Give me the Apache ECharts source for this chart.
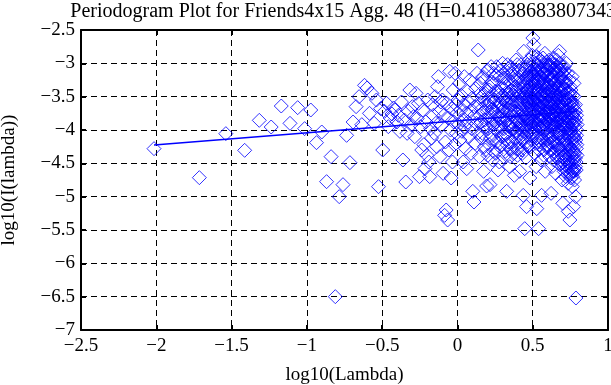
<!DOCTYPE html>
<html>
<head>
<meta charset="utf-8">
<script src="https://cdn.jsdelivr.net/npm/echarts@6/dist/echarts.min.js"></script>
<style>html,body{margin:0;padding:0;background:#fff}#c{width:611px;height:385px}</style>
</head>
<body>
<div id="c"></div>
<script>
const titleText = 'Periodogram Plot for Friends4x15 Agg. 48 (H=0.410538683807343)';
const xName = 'log10(Lambda)';
const yName = 'log10(I(lambda))';
const xTicks = [-2.5, -2, -1.5, -1, -0.5, 0, 0.5, 1];
const yTicks = [-7, -6.5, -6, -5.5, -5, -4.5, -4, -3.5, -3, -2.5];

// low frequencies (sparse, read individually)
const lowFreq = [
[-2.015,-4.28],[-1.714,-4.715],[-1.538,-4.055],[-1.413,-4.305],[-1.316,-3.855],[-1.237,-3.955],
[-1.170,-3.64],[-1.112,-3.90],[-1.061,-3.665],[-1.015,-3.98],[-0.974,-3.70],[-0.936,-4.19],
[-0.901,-4.03],[-0.869,-4.775],[-0.839,-4.40],[-0.811,-6.50],[-0.785,-5.00],[-0.760,-4.82],
[-0.736,-4.08],[-0.714,-4.49],[-0.693,-3.88],[-0.673,-3.65],[-0.653,-3.50],[-0.635,-3.92],
[-0.617,-3.33],[-0.600,-3.37]
];
// middle frequencies
const midFreq = [
[-0.584,-3.75],[-0.568,-3.45],[-0.553,-3.90],[-0.538,-3.55],[-0.524,-4.85],[-0.510,-3.68],
[-0.496,-4.30],[-0.484,-3.72],[-0.471,-3.60],[-0.459,-3.95],[-0.447,-3.82],[-0.435,-3.76],
[-0.424,-3.67],[-0.413,-3.70],[-0.402,-3.88],[-0.392,-3.78],[-0.382,-4.02],[-0.372,-3.58],
[-0.362,-4.45],[-0.352,-3.85],[-0.343,-4.78],[-0.334,-4.05],[-0.325,-3.72],[-0.316,-3.40],
[-0.307,-3.92],[-0.299,-3.65],[-0.291,-3.80],[-0.283,-4.10],[-0.275,-3.45],[-0.267,-3.83],
[-0.259,-3.60],[-0.252,-4.70],[-0.244,-3.95],[-0.237,-4.30],[-0.230,-3.70],[-0.223,-4.22],
[-0.216,-4.58],[-0.210,-3.88],[-0.203,-4.38],[-0.197,-3.55],[-0.190,-4.48],[-0.184,-4.70],
[-0.178,-3.98],[-0.172,-4.12],[-0.166,-3.62],[-0.160,-3.78],[-0.154,-4.05],[-0.148,-3.50],
[-0.143,-3.90],[-0.137,-4.25],[-0.132,-3.35],[-0.126,-3.20],[-0.121,-3.72],[-0.116,-4.40],
[-0.110,-3.58],[-0.105,-3.93],[-0.100,-3.55],[-0.095,-4.65],[-0.090,-3.78],[-0.085,-5.28],
[-0.080,-4.18],[-0.075,-5.20],[-0.070,-3.60],[-0.065,-5.35],[-0.060,-3.82],[-0.056,-4.30],
[-0.051,-3.12],[-0.046,-4.00],[-0.042,-4.72],[-0.037,-3.68],[-0.033,-4.48],[-0.028,-3.40],
[-0.024,-3.88],[-0.020,-4.22],[-0.015,-3.15],[-0.011,-3.62],[-0.007,-4.05],[-0.003,-3.75]
];
// high frequencies (dense cloud)
const highFreqA = [
[0.004,-3.55],[0.008,-3.92],[0.013,-3.30],[0.017,-4.15],[0.021,-3.70],[0.025,-3.48],[0.030,-4.02],
[0.034,-3.85],[0.038,-4.48],[0.042,-3.62],[0.046,-3.20],[0.050,-3.95],[0.054,-4.28],[0.058,-3.75],
[0.062,-4.58],[0.066,-3.42],[0.070,-3.88],[0.074,-3.58],[0.078,-4.10],[0.082,-3.25],[0.086,-3.72],
[0.090,-4.35],[0.094,-3.98],[0.098,-3.52],[0.102,-4.92],[0.106,-3.80],[0.110,-5.08],[0.114,-3.65],
[0.118,-4.20],[0.122,-3.38],[0.126,-3.90],[0.130,-3.15],[0.134,-4.05],[0.138,-2.80],[0.142,-3.60],
[0.146,-4.40],[0.150,-3.78],[0.154,-3.45],[0.158,-4.12],[0.162,-3.68],[0.166,-3.22],[0.170,-3.95],
[0.174,-4.62],[0.178,-3.55],[0.182,-3.85],[0.186,-4.30],[0.190,-3.40],[0.194,-4.84],[0.198,-3.72]
];
const highFreqB = [
[0.202,-3.10],[0.205,-3.98],[0.208,-3.62],[0.211,-4.22],[0.214,-3.35],[0.216,-4.82],[0.219,-3.80],
[0.222,-3.50],[0.225,-4.08],[0.228,-3.28],[0.231,-3.70],[0.234,-4.45],[0.237,-3.92],[0.240,-3.15],
[0.243,-3.58],[0.246,-4.15],[0.249,-3.75],[0.252,-3.42],[0.255,-4.35],[0.258,-3.88],[0.261,-3.05],
[0.264,-3.65],[0.267,-4.02],[0.270,-4.60],[0.273,-3.48],[0.276,-3.82],[0.279,-3.20],[0.282,-4.25],
[0.285,-3.60],[0.288,-3.95],[0.291,-3.38],[0.294,-4.10],[0.297,-3.72],[0.300,-3.00],[0.303,-3.55],
[0.306,-4.40],[0.309,-3.85],[0.312,-3.30],[0.315,-3.68],[0.318,-4.05],[0.321,-3.45],[0.324,-3.12],
[0.327,-4.92],[0.330,-3.78],[0.333,-3.58],[0.336,-4.18],[0.339,-3.25],[0.342,-3.92],[0.345,-3.52],
[0.348,-4.55],[0.351,-3.70],[0.354,-3.05],[0.357,-3.40],[0.360,-3.88],[0.363,-4.28],[0.366,-3.62],
[0.369,-3.18],[0.372,-3.98],[0.375,-3.48],[0.378,-4.68],[0.381,-3.80],[0.384,-3.35],[0.387,-4.12],
[0.390,-2.95],[0.393,-3.58],[0.396,-3.90],[0.399,-4.38]
];
const highFreqC = [
[0.401,-3.22],[0.403,-3.72],[0.405,-4.05],[0.407,-3.45],[0.409,-3.10],[0.411,-3.88],[0.413,-4.62],
[0.415,-3.60],[0.417,-3.32],[0.419,-4.18],[0.421,-3.78],[0.423,-3.02],[0.425,-3.55],[0.427,-3.95],
[0.429,-4.30],[0.431,-3.40],[0.433,-3.68],[0.435,-3.15],[0.437,-4.98],[0.439,-3.85],[0.441,-2.82],
[0.443,-3.50],[0.445,-4.10],[0.447,-5.48],[0.449,-3.62],[0.451,-3.28],[0.453,-3.92],[0.455,-4.42],
[0.457,-3.05],[0.459,-5.15],[0.461,-3.75],[0.463,-3.42],[0.465,-4.00],[0.467,-3.18],[0.469,-3.58],
[0.471,-4.25],[0.473,-3.82],[0.475,-2.95],[0.477,-3.35],[0.479,-3.70],[0.481,-4.72],[0.483,-3.48],
[0.485,-3.95],[0.487,-3.12],[0.489,-3.65],[0.491,-4.15],[0.493,-3.30],[0.495,-3.88],[0.497,-2.88],
[0.499,-3.55],[0.501,-2.62],[0.503,-4.05],[0.505,-3.40],[0.507,-2.72],[0.509,-3.78],[0.511,-3.20],
[0.513,-4.35],[0.515,-3.62],[0.517,-3.00],[0.519,-3.92],[0.521,-3.45],[0.523,-4.55],[0.525,-3.25],
[0.527,-5.18],[0.529,-3.72],[0.531,-3.10],[0.533,-4.10],[0.535,-3.52],[0.537,-2.92],[0.539,-5.48],
[0.541,-3.85],[0.543,-3.35],[0.545,-4.22],[0.547,-3.05],[0.549,-3.65],[0.551,-3.98],[0.553,-3.22],
[0.555,-4.45],[0.557,-3.48],[0.559,-4.98],[0.561,-3.80],[0.563,-2.98],[0.565,-3.58],[0.567,-4.05],
[0.569,-3.30],[0.571,-3.90],[0.573,-3.15],[0.575,-4.30],[0.577,-3.70],[0.579,-3.42],[0.581,-2.85],
[0.583,-4.62],[0.585,-3.55],[0.587,-3.95],[0.589,-3.08],[0.591,-3.75],[0.593,-4.15],[0.595,-3.38],
[0.597,-3.62],[0.599,-3.02]
];
const highFreqD = [
[0.601,-3.88],[0.603,-4.25],[0.604,-3.50],[0.606,-3.18],[0.607,-4.02],[0.609,-3.70],[0.610,-2.95],
[0.612,-3.42],[0.613,-4.40],[0.615,-3.82],[0.616,-3.28],[0.618,-3.60],[0.619,-4.12],[0.621,-3.05],
[0.622,-4.95],[0.624,-3.75],[0.625,-3.40],[0.627,-3.95],[0.628,-4.55],[0.630,-3.22],[0.631,-3.65],
[0.633,-3.12],[0.634,-4.08],[0.636,-3.52],[0.637,-3.85],[0.639,-2.92],[0.640,-4.32],[0.642,-3.45],
[0.643,-3.72],[0.645,-3.30],[0.646,-4.18],[0.648,-3.58],[0.649,-3.98],[0.651,-3.02],[0.652,-4.65],
[0.654,-3.80],[0.655,-3.38],[0.657,-3.68],[0.658,-4.05],[0.660,-3.15],[0.661,-3.55],[0.663,-4.42],
[0.664,-3.90],[0.666,-3.25],[0.667,-3.62],[0.669,-4.22],[0.670,-2.88],[0.672,-3.48],[0.673,-3.78],
[0.675,-4.00],[0.676,-3.35],[0.678,-2.82],[0.679,-4.52],[0.681,-3.70],[0.682,-3.10],[0.684,-3.92],
[0.685,-4.30],[0.687,-3.58],[0.688,-3.20],[0.690,-4.10],[0.691,-3.42],[0.693,-3.85],[0.694,-4.75],
[0.696,-3.05],[0.697,-3.65],[0.699,-4.40],[0.700,-5.10],[0.702,-3.50],[0.703,-3.95],[0.705,-3.28],
[0.706,-4.20],[0.708,-3.75],[0.709,-4.62],[0.711,-3.12],[0.712,-3.88],[0.714,-4.45],[0.715,-3.55],
[0.717,-4.05],[0.718,-3.38],[0.720,-4.70],[0.721,-3.72],[0.723,-4.25],[0.724,-3.00],[0.726,-3.62],
[0.727,-4.55],[0.729,-3.92],[0.730,-3.45],[0.732,-4.35],[0.733,-3.82],[0.735,-4.80],[0.736,-5.22],
[0.738,-3.68],[0.739,-4.12],[0.741,-3.25],[0.742,-4.50],[0.744,-3.98],[0.745,-4.68],[0.747,-5.35],
[0.748,-3.55],[0.750,-4.28],[0.751,-3.85],[0.753,-4.72],[0.754,-3.40],[0.756,-4.15],[0.757,-4.58],
[0.759,-3.75],[0.760,-4.40],[0.762,-3.20],[0.763,-4.85],[0.765,-3.92],[0.766,-4.62],[0.768,-3.62],
[0.769,-4.30],[0.771,-5.15],[0.772,-3.88],[0.774,-4.48],[0.775,-3.50],[0.777,-4.05],[0.778,-4.75],
[0.780,-3.70],[0.781,-4.20],[0.783,-3.95],[0.784,-4.55],[0.786,-5.00],[0.787,-6.52],[0.789,-3.85],
[0.790,-4.28],[0.792,-4.00]
];
const highFreqE = [
[0.442,-3.35],[0.445,-3.78],[0.448,-3.12],[0.450,-3.95],[0.452,-3.50],[0.455,-3.22],[0.457,-3.68],
[0.459,-4.18],[0.462,-3.40],[0.464,-3.02],[0.466,-3.85],[0.469,-3.60],[0.471,-3.28],[0.473,-4.02],
[0.476,-3.72],[0.478,-3.15],[0.480,-3.52],[0.483,-3.90],[0.485,-3.38],[0.487,-4.25],[0.490,-3.05],
[0.492,-3.78],[0.494,-3.45],[0.497,-3.62],[0.499,-4.08],[0.501,-3.25],[0.504,-3.88],[0.506,-2.98],
[0.508,-3.55],[0.511,-3.70],[0.513,-3.32],[0.515,-3.98],[0.518,-3.12],[0.520,-3.62],[0.522,-4.20],
[0.525,-3.42],[0.527,-2.90],[0.529,-3.80],[0.532,-3.55],[0.534,-3.28],[0.536,-3.92],[0.539,-3.18],
[0.541,-4.30],[0.543,-3.68],[0.546,-3.40],[0.548,-2.95],[0.550,-3.85],[0.553,-3.58],[0.555,-3.10],
[0.557,-4.12],[0.560,-3.48],[0.562,-3.75],[0.564,-3.22],[0.567,-3.95],[0.569,-2.92],[0.571,-3.62],
[0.574,-4.38],[0.576,-3.35],[0.578,-3.82],[0.581,-3.15],[0.583,-3.55],[0.585,-4.00],[0.588,-3.30],
[0.590,-3.72],[0.592,-2.98],[0.595,-4.22],[0.597,-3.45],[0.599,-3.88],[0.602,-3.10],[0.604,-3.65],
[0.606,-4.10],[0.609,-3.35],[0.611,-3.80],[0.613,-3.02],[0.616,-3.55],[0.618,-4.30],[0.620,-3.25],
[0.623,-3.92],[0.625,-3.62],[0.627,-2.98],[0.630,-4.18],[0.632,-3.42],[0.634,-3.78],[0.637,-3.18],
[0.639,-4.45],[0.641,-3.60],[0.644,-3.90],[0.646,-3.08],[0.648,-3.48],[0.651,-4.02],[0.653,-3.30],
[0.655,-3.72],[0.658,-2.95],[0.660,-4.28],[0.662,-3.52],[0.665,-3.85],[0.667,-3.12],[0.669,-4.12],
[0.672,-3.65],[0.674,-3.38],[0.676,-4.40],[0.679,-3.00],[0.681,-3.78],[0.683,-3.45],[0.686,-4.05],
[0.688,-3.22],[0.690,-3.58],[0.693,-4.30],[0.695,-3.92],[0.697,-3.15],[0.700,-3.70],[0.702,-4.48],
[0.704,-3.40],[0.707,-3.85],[0.709,-3.05],[0.711,-4.15],[0.714,-3.62],[0.716,-4.38],[0.718,-3.28],
[0.721,-3.98],[0.723,-4.58],[0.725,-3.52],[0.728,-3.78],[0.730,-4.22],[0.732,-3.15],[0.735,-4.48],
[0.737,-3.92],[0.739,-3.45],[0.742,-4.30],[0.744,-3.70],[0.746,-4.05],[0.749,-3.35],[0.751,-4.55],
[0.753,-3.98],[0.756,-3.60],[0.758,-4.35],[0.760,-3.82],[0.763,-4.62],[0.765,-3.48],[0.767,-4.12],
[0.770,-3.75],[0.772,-4.42],[0.774,-3.30],[0.777,-4.58],[0.779,-3.90],[0.781,-4.35],[0.784,-3.62],
[0.786,-4.15],[0.788,-4.48],[0.791,-3.78],[0.793,-4.22],[0.795,-3.92]
];
const highFreqF = [
[0.152,-3.30],[0.157,-3.88],[0.161,-3.50],[0.166,-4.05],[0.170,-3.20],[0.175,-3.72],[0.179,-4.25],
[0.184,-3.45],[0.188,-3.95],[0.193,-3.62],[0.197,-3.12],[0.202,-4.38],[0.206,-3.82],[0.211,-3.40],
[0.215,-3.58],[0.220,-4.12],[0.224,-3.05],[0.229,-3.90],[0.233,-3.68],[0.238,-4.32],[0.242,-3.30],
[0.247,-3.98],[0.251,-3.55],[0.256,-3.18],[0.260,-4.18],[0.265,-3.78],[0.269,-3.42],[0.274,-3.95],
[0.278,-4.48],[0.283,-3.62],[0.287,-3.10],[0.292,-3.82],[0.296,-4.22],[0.301,-3.48],[0.305,-3.70],
[0.310,-3.98],[0.314,-3.22],[0.319,-4.32],[0.323,-3.58],[0.328,-3.85],[0.332,-3.02],[0.337,-4.10],
[0.341,-3.45],[0.346,-3.75],[0.350,-4.40],[0.355,-3.28],[0.359,-3.92],[0.364,-3.55],[0.368,-4.18],
[0.373,-3.10],[0.377,-3.72],[0.382,-4.02],[0.386,-3.42],[0.391,-3.85],[0.395,-4.28],[0.400,-3.58],
[0.404,-3.25],[0.409,-3.98],[0.413,-3.68],[0.418,-4.10],[0.422,-3.38],[0.427,-3.82],[0.431,-4.35],
[0.436,-3.52]
];
const highFreqG = [
[0.481,-3.58],[0.484,-3.20],[0.486,-3.82],[0.489,-3.42],[0.491,-3.98],[0.494,-3.12],[0.496,-3.70],
[0.499,-3.35],[0.501,-3.92],[0.504,-3.55],[0.506,-3.18],[0.509,-4.02],[0.511,-3.48],[0.514,-3.08],
[0.516,-3.75],[0.519,-3.30],[0.521,-3.88],[0.524,-3.58],[0.526,-3.15],[0.529,-4.12],[0.531,-3.40],
[0.534,-3.72],[0.536,-3.02],[0.539,-3.62],[0.541,-3.95],[0.544,-3.25],[0.546,-3.82],[0.549,-3.45],
[0.551,-4.18],[0.554,-3.08],[0.556,-3.68],[0.559,-3.35],[0.561,-3.98],[0.564,-3.52],[0.566,-3.15],
[0.569,-3.78],[0.571,-4.15],[0.574,-3.28],[0.576,-3.62],[0.579,-3.92],[0.581,-3.45],[0.584,-3.05],
[0.586,-3.75],[0.589,-4.25],[0.591,-3.38],[0.594,-3.85],[0.596,-3.18],[0.599,-3.58],[0.601,-4.05],
[0.604,-3.32],[0.606,-3.72],[0.609,-3.05],[0.611,-3.95],[0.614,-3.48],[0.616,-4.20],[0.619,-3.22],
[0.621,-3.68],[0.624,-3.88],[0.626,-3.35],[0.629,-4.10],[0.631,-3.55],[0.634,-3.02],[0.636,-3.80],
[0.639,-4.35],[0.641,-3.28],[0.644,-3.62],[0.646,-3.95],[0.649,-3.42],[0.651,-3.12],[0.654,-4.22],
[0.656,-3.70],[0.659,-3.50],[0.661,-3.88],[0.664,-3.05],[0.666,-4.38],[0.669,-3.35],[0.671,-3.78],
[0.674,-4.05],[0.676,-3.58],[0.679,-3.22],[0.681,-4.28],[0.684,-3.45],[0.686,-3.85],[0.689,-3.10],
[0.691,-4.50],[0.694,-3.65],[0.696,-3.98],[0.699,-3.35],[0.701,-4.22],[0.704,-3.78],[0.706,-3.18],
[0.709,-4.38],[0.711,-3.55],[0.714,-3.95],[0.716,-3.40],[0.719,-4.52],[0.721,-3.82],[0.724,-4.15],
[0.726,-3.30],[0.729,-4.62],[0.731,-3.70],[0.734,-4.05],[0.736,-3.52],[0.739,-4.40],[0.741,-3.88],
[0.744,-4.25],[0.746,-3.62],[0.749,-4.65],[0.751,-3.45],[0.754,-4.02],[0.756,-4.48],[0.759,-3.58],
[0.761,-4.20],[0.764,-3.78],[0.766,-4.70],[0.769,-4.08],[0.771,-3.65],[0.774,-4.35],[0.776,-4.62],
[0.779,-3.82],[0.781,-4.12],[0.784,-4.42],[0.786,-3.72],[0.789,-4.60],[0.791,-4.08],[0.794,-4.38]
];
const highFreqH = [
[0.302,-3.78],[0.307,-3.22],[0.311,-4.08],[0.316,-3.52],[0.320,-3.88],[0.325,-3.35],[0.329,-4.22],
[0.334,-3.68],[0.338,-3.08],[0.343,-3.95],[0.347,-3.42],[0.352,-4.28],[0.356,-3.62],[0.361,-3.15],
[0.365,-3.98],[0.370,-3.48],[0.374,-4.35],[0.379,-3.25],[0.383,-3.72],[0.388,-4.05],[0.392,-3.38],
[0.397,-3.02],[0.401,-3.85],[0.406,-4.28],[0.410,-3.48],[0.415,-3.12],[0.419,-3.92],[0.424,-3.60],
[0.428,-4.15],[0.433,-3.28],[0.437,-3.75],[0.442,-4.02],[0.446,-3.45],[0.451,-3.08],[0.455,-3.82],
[0.460,-4.22],[0.464,-3.55],[0.469,-3.92],[0.473,-3.22],[0.478,-4.08]
];
// least-squares fit line endpoints
const fitLine = [[-2.015,-4.225],[0.797,-3.72]];

const FONT = '"Liberation Serif", "Times New Roman", serif';
const BLUE = '#0000ff';
const fmt = v => String(v).replace('-', '\u2212');

const chart = echarts.init(document.getElementById('c'), null, {renderer: 'canvas'});

const baseAxis = {
  type: 'value',
  axisLine: {show: true, onZero: false, lineStyle: {color: '#000', width: 2}},
  axisTick: {show: true, inside: true, length: 5, lineStyle: {color: '#000', width: 2}},
  animation: false
};

const scatterCommon = {
  type: 'scatter',
  symbol: 'diamond',
  symbolSize: 14,
  itemStyle: {color: 'rgba(0,0,0,0)', borderColor: BLUE, borderWidth: 1},
  silent: true,
  animation: false
};

const pointSets = [lowFreq, midFreq, highFreqA, highFreqB, highFreqC, highFreqD,
                   highFreqE, highFreqF, highFreqG, highFreqH];

chart.setOption({
  animation: false,
  backgroundColor: '#fff',
  title: {
    text: titleText,
    left: 341.5,
    top: -3,
    textAlign: 'center',
    textStyle: {fontFamily: FONT, fontSize: 20, fontWeight: 'normal', color: '#000'}
  },
  grid: {left: 81, right: 3, top: 30, bottom: 55, containLabel: false, outerBoundsMode: 'none'},
  xAxis: [
    Object.assign({}, baseAxis, {
      min: xTicks[0], max: xTicks[xTicks.length - 1], interval: 0.5, position: 'bottom',
      name: xName, nameLocation: 'middle', nameGap: 36,
      nameTextStyle: {fontFamily: FONT, fontSize: 19, color: '#000'},
      axisLabel: {fontFamily: FONT, fontSize: 19, color: '#000', margin: 7, formatter: fmt},
      splitLine: {show: true, lineStyle: {color: '#000', type: [6, 4], width: 1}}
    }),
    Object.assign({}, baseAxis, {
      min: xTicks[0], max: xTicks[xTicks.length - 1], interval: 0.5, position: 'top',
      axisLabel: {show: false}, splitLine: {show: false}
    })
  ],
  yAxis: [
    Object.assign({}, baseAxis, {
      min: yTicks[0], max: yTicks[yTicks.length - 1], interval: 0.5, position: 'left',
      name: yName, nameLocation: 'middle', nameGap: 62,
      nameTextStyle: {fontFamily: FONT, fontSize: 19, color: '#000'},
      axisLabel: {fontFamily: FONT, fontSize: 19, color: '#000', margin: 6, formatter: fmt},
      splitLine: {show: true, lineStyle: {color: '#000', type: [6, 4], width: 1}}
    }),
    Object.assign({}, baseAxis, {
      min: yTicks[0], max: yTicks[yTicks.length - 1], interval: 0.5, position: 'right',
      axisLabel: {show: false}, splitLine: {show: false}
    })
  ],
  series: pointSets.map(d => Object.assign({}, scatterCommon, {data: d})).concat([
    {
      type: 'line', data: fitLine, showSymbol: false, symbol: 'none',
      lineStyle: {color: BLUE, width: 1.5}, silent: true, animation: false, z: 3
    }
  ])
});
</script>
</body>
</html>
